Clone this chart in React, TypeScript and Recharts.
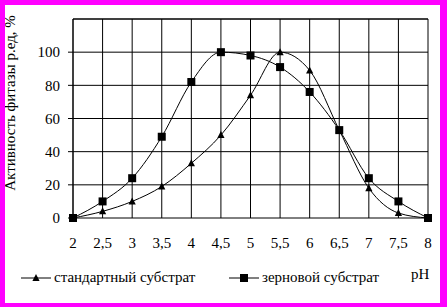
import { CartesianGrid, Line, LineChart, ReferenceLine, XAxis, YAxis } from 'recharts'

const phValues = [2, 2.5, 3, 3.5, 4, 4.5, 5, 5.5, 6, 6.5, 7, 7.5, 8]
const standardSubstrate = [0, 4, 10, 19, 33, 50, 74, 100, 89, 53, 18, 3, 0]
const grainSubstrate = [0, 10, 24, 49, 82, 100, 98, 91, 76, 53, 24, 10, 0]
const yTicks = [0, 20, 40, 60, 80, 100]

const seriesNames = ['стандартный субстрат', 'зерновой субстрат']
const yLabel = 'Активность фитазы р.ед, %'
const xLabel = 'pH'

const data = phValues.map((ph, i) => ({
  ph,
  standard: standardSubstrate[i],
  grain: grainSubstrate[i],
}))

const font = 'Liberation Serif'

function Triangle({ cx, cy }: any) {
  if (cx == null || cy == null) return null
  return <path d={`M${cx},${cy - 4}L${cx + 3.6},${cy + 3}L${cx - 3.6},${cy + 3}Z`} fill="#000" />
}

function Square({ cx, cy }: any) {
  if (cx == null || cy == null) return null
  return <rect x={cx - 4} y={cy - 4} width={8} height={8} fill="#000" />
}

function LegendItem({ label, marker }: { label: string; marker: 'tri' | 'sq' }) {
  return (
    <div style={{ display: 'flex', alignItems: 'center' }}>
      <svg width={30} height={10} style={{ marginRight: 3 }}>
        <line x1={0} y1={5} x2={30} y2={5} stroke="#000" strokeWidth={1} />
        {marker === 'tri' ? (
          <path d="M15,1L18.6,8L11.4,8Z" fill="#000" />
        ) : (
          <rect x={11} y={1} width={8} height={8} fill="#000" />
        )}
      </svg>
      <span>{label}</span>
    </div>
  )
}

export default function App() {
  return (
    <div style={{ position: 'absolute', left: 0, top: 0, width: 447, height: 307, background: '#fff', fontFamily: font }}>
      <LineChart width={447} height={307} data={data} margin={{ top: 19, right: 19, left: 0, bottom: 0 }}>
        <CartesianGrid stroke="#000" strokeWidth={1} horizontal vertical />
        <XAxis
          dataKey="ph"
          type="number"
          domain={[2, 8]}
          ticks={phValues}
          tickFormatter={(v: number) => String(v).replace('.', ',')}
          axisLine={false}
          tickLine={false}
          height={89}
          tickMargin={13}
          tick={{ fill: '#000', fontSize: 15, fontFamily: font }}
        />
        <YAxis
          type="number"
          domain={[0, 120]}
          ticks={yTicks}
          width={73}
          axisLine={{ stroke: '#000' }}
          tickLine={{ stroke: '#000' }}
          tickSize={5}
          tickMargin={8}
          tick={{ fill: '#000', fontSize: 15, fontFamily: font }}
        />
        <ReferenceLine y={120} stroke="#000" strokeWidth={1} />
        <Line
          type="monotone"
          dataKey="standard"
          stroke="#000"
          strokeWidth={1}
          dot={<Triangle />}
          activeDot={false}
          isAnimationActive={false}
        />
        <Line
          type="monotone"
          dataKey="grain"
          stroke="#000"
          strokeWidth={1}
          dot={<Square />}
          activeDot={false}
          isAnimationActive={false}
        />
      </LineChart>
      <div
        style={{
          position: 'absolute',
          left: 10,
          top: 103,
          transform: 'translate(-50%, -50%) rotate(-90deg)',
          whiteSpace: 'nowrap',
          fontSize: 15,
          lineHeight: '15px',
        }}
      >
        {yLabel}
      </div>
      <div style={{ position: 'absolute', left: 21, top: 269, fontSize: 15, display: 'flex' }}>
        <LegendItem label={seriesNames[0]} marker="tri" />
      </div>
      <div style={{ position: 'absolute', left: 229, top: 269, fontSize: 15, display: 'flex' }}>
        <LegendItem label={seriesNames[1]} marker="sq" />
      </div>
      <div style={{ position: 'absolute', left: 411, top: 266, fontSize: 15 }}>{xLabel}</div>
      <div
        style={{
          position: 'absolute',
          inset: 0,
          boxSizing: 'border-box',
          borderStyle: 'solid',
          borderColor: '#ff00ff',
          borderWidth: '5px 7px 4px 5px',
          pointerEvents: 'none',
        }}
      />
    </div>
  )
}
